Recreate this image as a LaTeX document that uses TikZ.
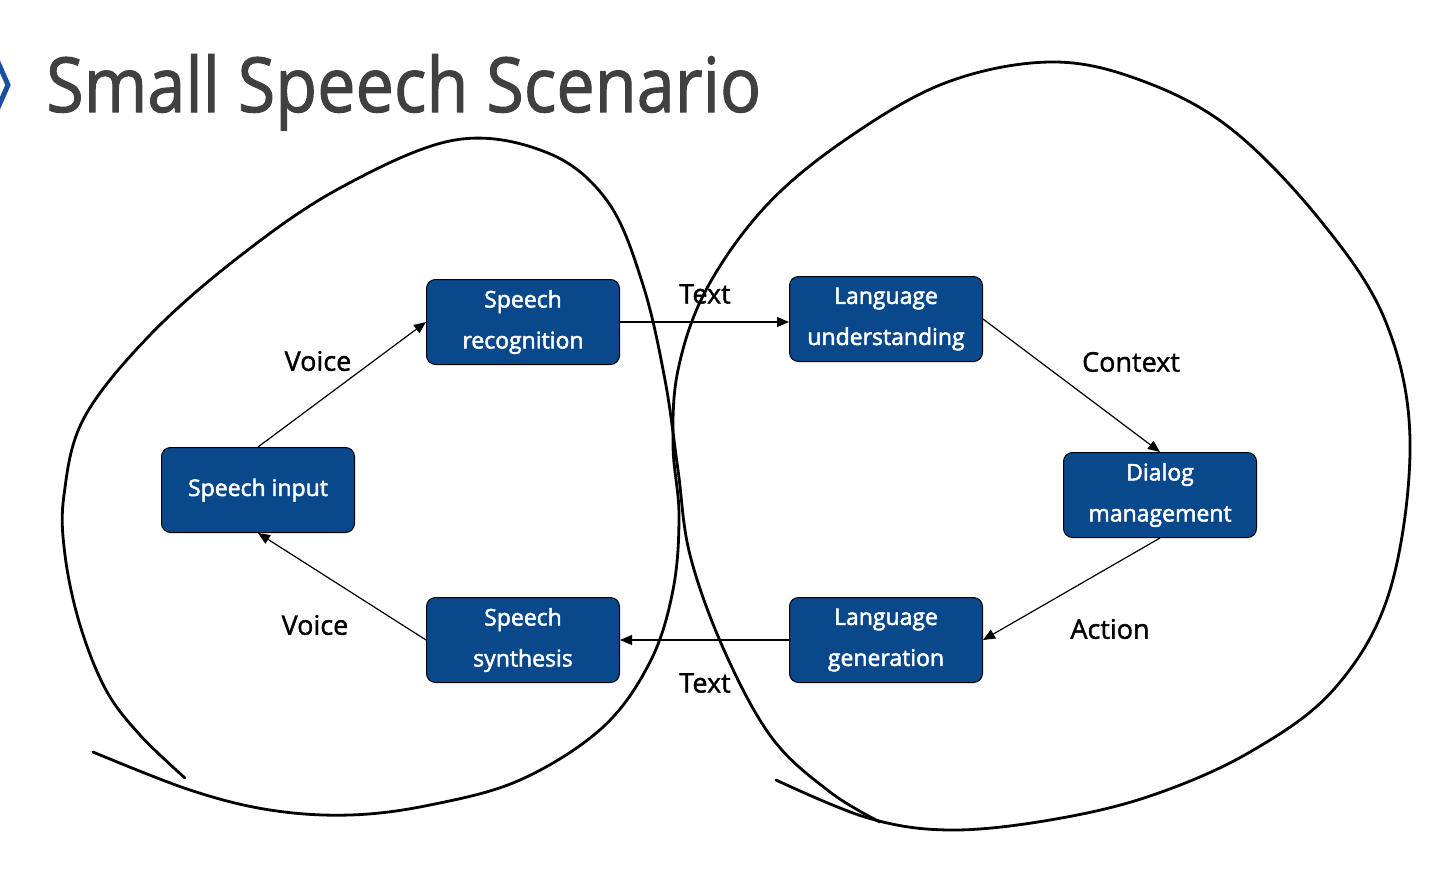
\documentclass[tikz,border=0pt]{standalone}
\usepackage{fontspec}
\setmainfont{Open Sans}
\newfontfamily\medfont{Open Sans}[UprightFeatures={FakeBold=2.2}]
\newfontfamily\semifont{Open Sans}[UprightFeatures={FakeBold=1.4}]
\usetikzlibrary{arrows.meta}
\definecolor{boxblue}{RGB}{10,72,140}
\definecolor{titlegray}{RGB}{64,64,64}
\definecolor{chevblue}{RGB}{25,80,160}
\begin{document}
\begin{tikzpicture}[x=1pt,y=-1pt,
  box/.style={draw=black, line width=1pt, fill=boxblue, rounded corners=9pt,
    minimum width=193pt, minimum height=85pt, text=white, align=center,
    font=\medfont\fontsize{23}{41}\selectfont, inner sep=0pt},
  lbl/.style={font=\semifont\fontsize{27}{32}\selectfont, text=black, inner sep=0pt},
  conn/.style={draw=black, line width=1.2pt, -{Triangle[length=12pt,width=10pt]}},
  loopline/.style={draw=black, line width=2.8pt, line cap=round, line join=round}]
\fill[white] (0,0) rectangle (1446,881);
\path[use as bounding box] (0,0) rectangle (1446,881);

% title and chevron
\draw[chevblue, line width=5pt] (-3,60) -- (8,85) -- (-3,110);
\node[anchor=base west, text=titlegray, inner sep=0pt] (title) at (46,112)
  {\scalebox{0.9}[1]{\semifont\fontsize{76}{80}\selectfont Small Speech Scenario}};

% hand-drawn loops
\draw[loopline] plot[smooth, tension=0.6] coordinates {
  (185,778) (140,735) (106,690) (80,625) (65,555) (64,495) (84,418) (150,335) (240,256)
  (340,188) (455,140) (548,153) (608,202) (643,285) (665,380) (678,470)
  (690,555) (724,650) (772,738) (830,792) (880,822)};
\draw[loopline] plot[smooth, tension=0.6] coordinates {
  (776,780) (868,818) (950,830) (1050,820) (1150,796) (1250,752)
  (1335,688) (1390,590) (1410,440) (1385,320) (1320,220) (1230,128)
  (1140,80) (1050,62) (945,83) (845,140) (765,207) (706,290) (678,370)
  (673,445) (679,515) (673,590) (650,662) (602,728) (520,780) (430,805)
  (350,815) (270,810) (190,790) (93,752)};

% boxes
\node[box] (input)  at (258,490)  {Speech input};
\node[box] (recog)  at (523,322)  {Speech\\recognition};
\node[box] (synth)  at (523,640)  {Speech\\synthesis};
\node[box] (under)  at (886,319)  {Language\\understanding};
\node[box] (dialog) at (1160,495) {Dialog\\management};
\node[box] (gen)    at (886,640)  {Language\\generation};

% connectors
\draw[conn] (input.north) -- (recog.west);
\draw[conn] (recog.east) -- (under.west |- recog.east);
\draw[conn] (under.east) -- (dialog.north);
\draw[conn] (dialog.south) -- (gen.east);
\draw[conn] (gen.west) -- (synth.east);
\draw[conn] (synth.west) -- (input.south);

% labels
\node[lbl] (v1)  at (318,361)  {Voice};
\node[lbl] (v2)  at (315,625)  {Voice};
\node[lbl] (t1)  at (705,294)  {Text};
\node[lbl] (t2)  at (705,683)  {Text};
\node[lbl] (ctx) at (1131,362) {Context};
\node[lbl] (act) at (1110,629) {Action};
\end{tikzpicture}
\end{document}
